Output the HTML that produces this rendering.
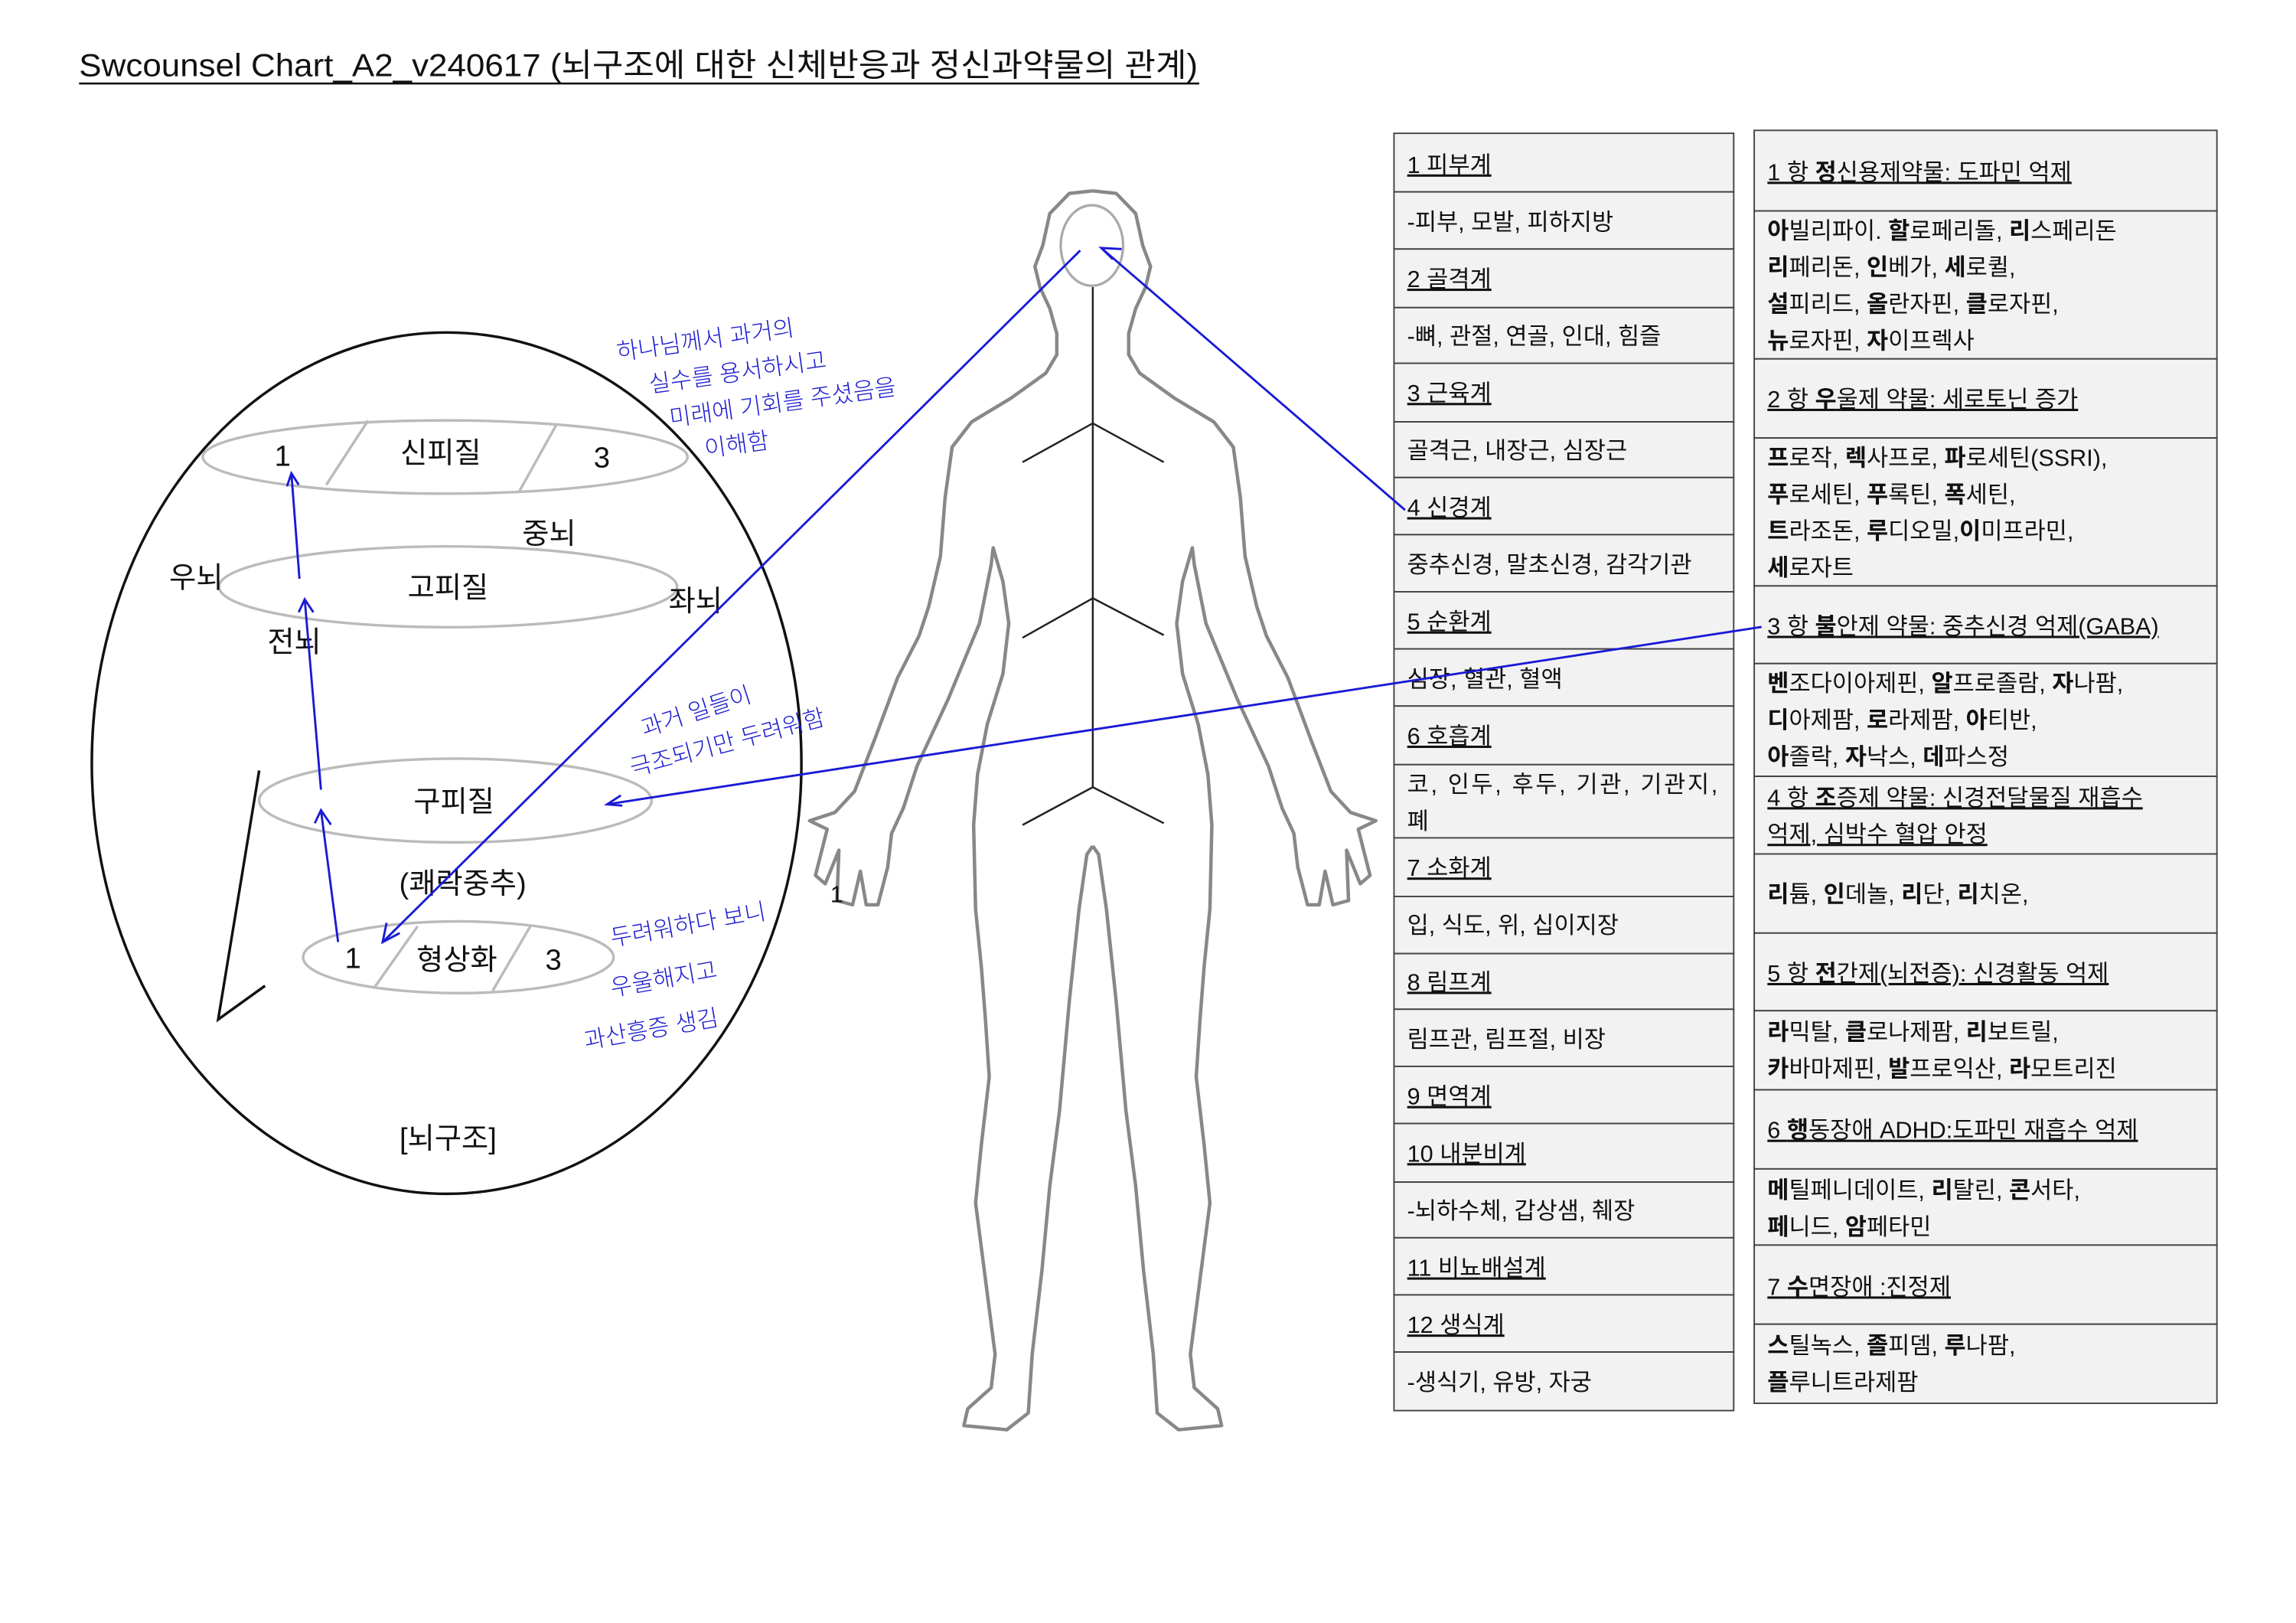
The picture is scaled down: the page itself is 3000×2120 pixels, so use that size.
<!DOCTYPE html>
<html><head><meta charset="utf-8"><style>
html,body{margin:0;padding:0;background:#fff;}
svg{display:block;}
text{font-family:"Liberation Sans","Noto Sans CJK KR",sans-serif;}
.t{font-size:16px;fill:#111;}
.u{text-decoration:underline;}
.b{font-size:20px;fill:#111;}
.h{font-family:"Noto Sans CJK KR",sans-serif;font-size:16px;fill:#1b1bd0;font-weight:300;}
</style></head><body>
<svg width="3000" height="2120" viewBox="0 0 1568 1108" preserveAspectRatio="none" xmlns="http://www.w3.org/2000/svg">
<rect width="1568" height="1108" fill="#fff"/>
<!-- title -->
<text x="54" y="52" font-size="22" fill="#111" textLength="764" lengthAdjust="spacingAndGlyphs">Swcounsel Chart_A2_v240617 (뇌구조에 대한 신체반응과 정신과약물의 관계)</text>
<line x1="54" y1="57" x2="819" y2="57" stroke="#111" stroke-width="1.4"/>

<!-- body outline -->
<g transform="translate(548.9,104.5) scale(0.2667,0.5734)">
<g id="half"><path fill="none" stroke="#888" stroke-width="4.5" vector-effect="non-scaling-stroke" stroke-linejoin="round" d="M740,45 L800,48 850,72 868,110 888,135 875,160 850,185 832,215 832,240 860,262 950,292 1050,320 1100,350 1118,410 1130,480 1160,540 1185,575 1240,625 1300,700 1350,760 1400,785 1465,795 1420,805 1450,860 1425,870 1390,830 1395,890 1355,895 1335,855 1320,895 1290,895 1265,850 1255,810 1225,780 1190,730 1110,650 1030,560 1000,490 995,470 970,510 955,560 970,620 1010,680 1035,740 1045,800 1040,900 1025,970 1015,1030 1005,1100 1025,1180 1040,1250 1015,1340 990,1430 1000,1470 1060,1495 1070,1515 960,1520 905,1500 895,1430 870,1330 850,1230 825,1140 800,1010 775,900 755,835 740,825"/></g>
<use href="#half" transform="translate(1480,0) scale(-1,1)"/>
</g>
<ellipse cx="745.7" cy="167.6" rx="21.3" ry="27.5" fill="none" stroke="#aaa" stroke-width="1.7"/>
<g stroke="#222" stroke-width="1.3">
<line x1="746.3" y1="196" x2="746.3" y2="537.4"/>
<line x1="746.3" y1="289" x2="698.3" y2="315.5"/><line x1="746.3" y1="289" x2="794.8" y2="315.5"/>
<line x1="746.3" y1="408.4" x2="698.3" y2="435.4"/><line x1="746.3" y1="408.4" x2="794.8" y2="433.6"/>
<line x1="746.3" y1="537.4" x2="698.3" y2="563.2"/><line x1="746.3" y1="537.4" x2="794.8" y2="562"/>
</g>
<text x="567" y="616" font-size="16" fill="#111">1</text>

<!-- brain -->
<ellipse cx="305" cy="521" rx="242.3" ry="294" fill="none" stroke="#111" stroke-width="1.8"/>
<g fill="none" stroke="#bbb" stroke-width="1.8">
<ellipse cx="304" cy="312" rx="165.5" ry="25"/>
<ellipse cx="306" cy="400.6" rx="156.4" ry="27.6"/>
<ellipse cx="311" cy="546.5" rx="134" ry="28.6"/>
<ellipse cx="313" cy="653.5" rx="106" ry="24.5"/>
<line x1="251.4" y1="287" x2="222.8" y2="331"/><line x1="379.8" y1="290.3" x2="354.8" y2="335.1"/>
<line x1="285.2" y1="632.3" x2="255.8" y2="674"/><line x1="362.2" y1="632.3" x2="336.5" y2="676.3"/>
</g>
<g stroke="#111" stroke-width="1.8" fill="none"><polyline points="177,526 149,696 181,673"/></g>
<g class="b" text-anchor="middle">
<text x="193" y="318">1</text><text x="301" y="316">신피질</text><text x="411" y="319">3</text>
<text x="375" y="371">중뇌</text><text x="134" y="401">우뇌</text><text x="306" y="408">고피질</text>
<text x="475" y="417">좌뇌</text><text x="201" y="445">전뇌</text><text x="310" y="554">구피질</text>
<text x="316" y="610">(쾌락중추)</text><text x="241" y="661">1</text><text x="312" y="662">형상화</text>
<text x="378" y="662">3</text><text x="306" y="784">[뇌구조]</text>
</g>

<!-- handwriting -->
<g class="h">
<text x="422" y="246" transform="rotate(-8 422 246)">하나님께서 과거의</text>
<text x="444" y="268" transform="rotate(-8 444 268)">실수를 용서하시고</text>
<text x="458" y="291" transform="rotate(-8 458 291)">미래에 기회를 주셨음을</text>
<text x="482" y="312" transform="rotate(-8 482 312)">이해함</text>
<text x="440" y="503" transform="rotate(-18 440 503)">과거 일들이</text>
<text x="432" y="530" transform="rotate(-15 432 530)">극조되기만 두려워함</text>
<text x="418" y="646" transform="rotate(-10 418 646)">두려워하다 보니</text>
<text x="418" y="680" transform="rotate(-10 418 680)">우울해지고</text>
<text x="400" y="716" transform="rotate(-10 400 716)">과산흥증 생김</text>
</g>

<!-- left table -->
<g fill="#f2f2f2" stroke="#444" stroke-width="1">
<rect x="952" y="91" width="232" height="40"/><rect x="952" y="131" width="232" height="39"/>
<rect x="952" y="170" width="232" height="40"/><rect x="952" y="210" width="232" height="38"/>
<rect x="952" y="248" width="232" height="40"/><rect x="952" y="288" width="232" height="38"/>
<rect x="952" y="326" width="232" height="39"/><rect x="952" y="365" width="232" height="39"/>
<rect x="952" y="404" width="232" height="39"/><rect x="952" y="443" width="232" height="39"/>
<rect x="952" y="482" width="232" height="40"/><rect x="952" y="522" width="232" height="50"/>
<rect x="952" y="572" width="232" height="40"/><rect x="952" y="612" width="232" height="39"/>
<rect x="952" y="651" width="232" height="38"/><rect x="952" y="689" width="232" height="39"/>
<rect x="952" y="728" width="232" height="39"/><rect x="952" y="767" width="232" height="40"/>
<rect x="952" y="807" width="232" height="38"/><rect x="952" y="845" width="232" height="39"/>
<rect x="952" y="884" width="232" height="39"/><rect x="952" y="923" width="232" height="40"/>
</g>
<g class="t">
<text x="961" y="118" class="u">1 피부계</text>
<text x="961" y="157">-피부, 모발, 피하지방</text>
<text x="961" y="196" class="u">2 골격계</text>
<text x="961" y="235">-뼈, 관절, 연골, 인대, 힘즐</text>
<text x="961" y="274" class="u">3 근육계</text>
<text x="961" y="313">골격근, 내장근, 심장근</text>
<text x="961" y="352" class="u">4 신경계</text>
<text x="961" y="391">중추신경, 말초신경, 감각기관</text>
<text x="961" y="430" class="u">5 순환계</text>
<text x="961" y="469">심장, 혈관, 혈액</text>
<text x="961" y="508" class="u">6 호흡계</text>
<text x="961" y="541" textLength="212">코, 인두, 후두, 기관, 기관지,</text>
<text x="961" y="566">폐</text>
<text x="961" y="598" class="u">7 소화계</text>
<text x="961" y="637">입, 식도, 위, 십이지장</text>
<text x="961" y="676" class="u">8 림프계</text>
<text x="961" y="715">림프관, 림프절, 비장</text>
<text x="961" y="754" class="u">9 면역계</text>
<text x="961" y="793" class="u">10 내분비계</text>
<text x="961" y="832">-뇌하수체, 갑상샘, 췌장</text>
<text x="961" y="871" class="u">11 비뇨배설계</text>
<text x="961" y="910" class="u">12 생식계</text>
<text x="961" y="949">-생식기, 유방, 자궁</text>
</g>

<!-- right table -->
<g fill="#f2f2f2" stroke="#444" stroke-width="1">
<rect x="1198" y="89" width="316" height="55"/><rect x="1198" y="144" width="316" height="101"/>
<rect x="1198" y="245" width="316" height="54"/><rect x="1198" y="299" width="316" height="101"/>
<rect x="1198" y="400" width="316" height="53"/><rect x="1198" y="453" width="316" height="77"/>
<rect x="1198" y="530" width="316" height="53"/><rect x="1198" y="583" width="316" height="54"/>
<rect x="1198" y="637" width="316" height="53"/><rect x="1198" y="690" width="316" height="54"/>
<rect x="1198" y="744" width="316" height="54"/><rect x="1198" y="798" width="316" height="52"/>
<rect x="1198" y="850" width="316" height="54"/><rect x="1198" y="904" width="316" height="54"/>
</g>
<g class="t">
<text x="1207" y="123" class="u">1 항 <tspan font-weight="700">정</tspan>신용제약물: 도파민 억제</text>
<text x="1207" y="163"><tspan font-weight="700">아</tspan>빌리파이. <tspan font-weight="700">할</tspan>로페리돌, <tspan font-weight="700">리</tspan>스페리돈</text>
<text x="1207" y="188"><tspan font-weight="700">리</tspan>페리돈, <tspan font-weight="700">인</tspan>베가, <tspan font-weight="700">세</tspan>로퀼,</text>
<text x="1207" y="213"><tspan font-weight="700">설</tspan>피리드, <tspan font-weight="700">올</tspan>란자핀, <tspan font-weight="700">클</tspan>로자핀,</text>
<text x="1207" y="238"><tspan font-weight="700">뉴</tspan>로자핀, <tspan font-weight="700">자</tspan>이프렉사</text>
<text x="1207" y="278" class="u">2 항 <tspan font-weight="700">우</tspan>울제 약물: 세로토닌 증가</text>
<text x="1207" y="318"><tspan font-weight="700">프</tspan>로작, <tspan font-weight="700">렉</tspan>사프로, <tspan font-weight="700">파</tspan>로세틴(SSRI),</text>
<text x="1207" y="343"><tspan font-weight="700">푸</tspan>로세틴, <tspan font-weight="700">푸</tspan>록틴, <tspan font-weight="700">폭</tspan>세틴,</text>
<text x="1207" y="368"><tspan font-weight="700">트</tspan>라조돈, <tspan font-weight="700">루</tspan>디오밀,<tspan font-weight="700">이</tspan>미프라민,</text>
<text x="1207" y="393"><tspan font-weight="700">세</tspan>로자트</text>
<text x="1207" y="433" class="u">3 항 <tspan font-weight="700">불</tspan>안제 약물: 중추신경 억제(GABA)</text>
<text x="1207" y="472"><tspan font-weight="700">벤</tspan>조다이아제핀, <tspan font-weight="700">알</tspan>프로졸람, <tspan font-weight="700">자</tspan>나팜,</text>
<text x="1207" y="497"><tspan font-weight="700">디</tspan>아제팜, <tspan font-weight="700">로</tspan>라제팜, <tspan font-weight="700">아</tspan>티반,</text>
<text x="1207" y="522"><tspan font-weight="700">아</tspan>졸락, <tspan font-weight="700">자</tspan>낙스, <tspan font-weight="700">데</tspan>파스정</text>
<text x="1207" y="550" class="u">4 항 <tspan font-weight="700">조</tspan>증제 약물: 신경전달물질 재흡수</text>
<text x="1207" y="575" class="u">억제, 심박수 혈압 안정</text>
<text x="1207" y="616"><tspan font-weight="700">리</tspan>튬, <tspan font-weight="700">인</tspan>데놀, <tspan font-weight="700">리</tspan>단, <tspan font-weight="700">리</tspan>치온,</text>
<text x="1207" y="670" class="u">5 항 <tspan font-weight="700">전</tspan>간제(뇌전증): 신경활동 억제</text>
<text x="1207" y="710"><tspan font-weight="700">라</tspan>믹탈, <tspan font-weight="700">클</tspan>로나제팜, <tspan font-weight="700">리</tspan>보트릴,</text>
<text x="1207" y="735"><tspan font-weight="700">카</tspan>바마제핀, <tspan font-weight="700">발</tspan>프로익산, <tspan font-weight="700">라</tspan>모트리진</text>
<text x="1207" y="777" class="u">6 <tspan font-weight="700">행</tspan>동장애 ADHD:도파민 재흡수 억제</text>
<text x="1207" y="818"><tspan font-weight="700">메</tspan>틸페니데이트, <tspan font-weight="700">리</tspan>탈린, <tspan font-weight="700">콘</tspan>서타,</text>
<text x="1207" y="843"><tspan font-weight="700">페</tspan>니드, <tspan font-weight="700">암</tspan>페타민</text>
<text x="1207" y="884" class="u">7 <tspan font-weight="700">수</tspan>면장애 :진정제</text>
<text x="1207" y="924"><tspan font-weight="700">스</tspan>틸녹스, <tspan font-weight="700">졸</tspan>피뎀, <tspan font-weight="700">루</tspan>나팜,</text>
<text x="1207" y="949"><tspan font-weight="700">플</tspan>루니트라제팜</text>
</g>

<!-- blue lines (on top) -->
<g stroke="#1a1ad6" stroke-width="1.5" fill="none">
<line x1="737.7" y1="171" x2="261.3" y2="643.2"/>
<polyline points="264,630 261.3,643.2 273,637"/>
<line x1="959.6" y1="348.2" x2="752.1" y2="169.3"/>
<polyline points="766,170 752.1,169.3 760,177"/>
<line x1="1203" y1="428" x2="414.6" y2="549.1"/>
<polyline points="424,543 414.6,549.1 425,550"/>
<line x1="230.9" y1="643.1" x2="219.2" y2="553.1"/>
<polyline points="215,562 219.2,553.1 226,563"/>
<line x1="219.2" y1="539.1" x2="208.1" y2="409.1"/>
<polyline points="204,418 208.1,409.1 214,418"/>
<line x1="204.5" y1="395.1" x2="199" y2="323.1"/>
<polyline points="196,332 199,323.1 204,331"/>
</g>
</svg>
</body></html>
